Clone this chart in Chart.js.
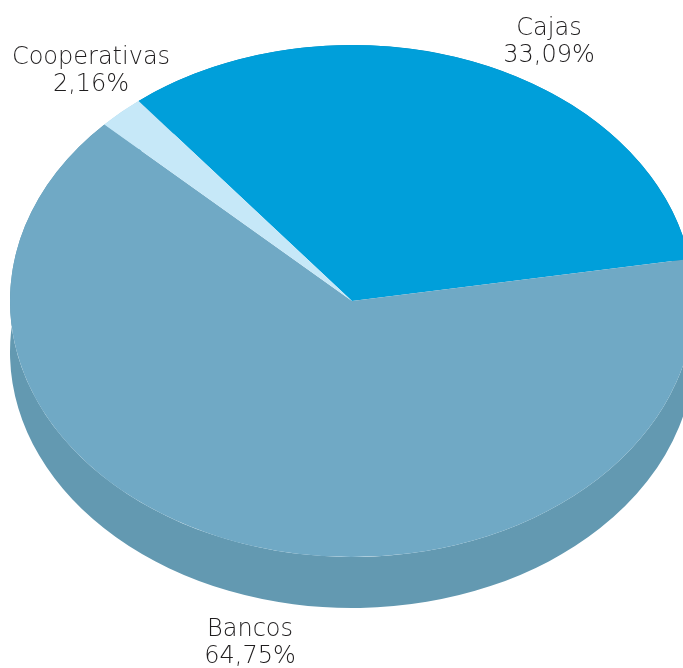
<!DOCTYPE html>
<html>
<head>
<meta charset="utf-8">
<script src="https://cdn.jsdelivr.net/npm/chart.js@4"></script>
<style>
  html, body { margin: 0; padding: 0; background: #ffffff; }
  #chart { display: block; }
</style>
</head>
<body>
<canvas id="chart" width="683" height="668"></canvas>
<script>
// Data
const labels = ['Cajas', 'Bancos', 'Cooperativas'];
const shares = [33.09, 64.75, 2.16];
const shareText = ['33,09%', '64,75%', '2,16%'];

// Styling
const topColors = ['#009fda', '#70a9c5', '#c6e8f8'];
const sideColors = ['#0088bb', '#6399b1', '#a9cfe0'];

// Tilted-ellipse geometry of the drawing
const CX = 352, CY = 301, RX = 342, RY = 256, DEPTH = 51;
// Label anchors: center x, baseline of first line
const labelPos = [[549, 35], [250, 636], [91, 64]];
const LINE_GAP = 27;

function tilt(ctx, arc) {
    const r = arc.outerRadius;
    ctx.translate(CX, CY);
    ctx.scale(RX / r, RY / r);
    ctx.translate(-arc.x, -arc.y);
}

const pie3d = {
    id: 'pie3d',
    beforeDatasetsDraw(chart) {
        const ctx = chart.ctx;
        const arcs = chart.getDatasetMeta(0).data;
        // side wall of each slice: band between the top rim and the rim moved down
        arcs.forEach((a, i) => {
            ctx.fillStyle = sideColors[i];
            ctx.beginPath();
            ctx.ellipse(CX, CY, RX, RY, 0, a.startAngle, a.endAngle);
            ctx.ellipse(CX, CY + DEPTH, RX, RY, 0, a.endAngle, a.startAngle, true);
            ctx.closePath();
            ctx.fill();
        });
        ctx.save();
        tilt(ctx, arcs[0]);
    },
    afterDatasetsDraw(chart) {
        const ctx = chart.ctx;
        ctx.restore();
        ctx.save();
        ctx.fillStyle = '#1f1d1e';
        ctx.font = '200 24px "DejaVu Sans"';
        ctx.textAlign = 'center';
        ctx.textBaseline = 'alphabetic';
        labels.forEach((l, i) => {
            const [x, y] = labelPos[i];
            ctx.fillText(l, x, y);
            ctx.fillText(shareText[i], x, y + LINE_GAP);
        });
        ctx.restore();
    }
};

new Chart(document.getElementById('chart'), {
    type: 'pie',
    data: {
        labels: labels,
        datasets: [{
            data: shares,
            backgroundColor: topColors,
            borderWidth: 0,
            hoverOffset: 0,
            clip: false
        }]
    },
    options: {
        responsive: false,
        animation: false,
        rotation: -38.6,
        events: [],
        plugins: {
            legend: { display: false },
            tooltip: { enabled: false }
        }
    },
    plugins: [pie3d]
});
</script>
</body>
</html>
